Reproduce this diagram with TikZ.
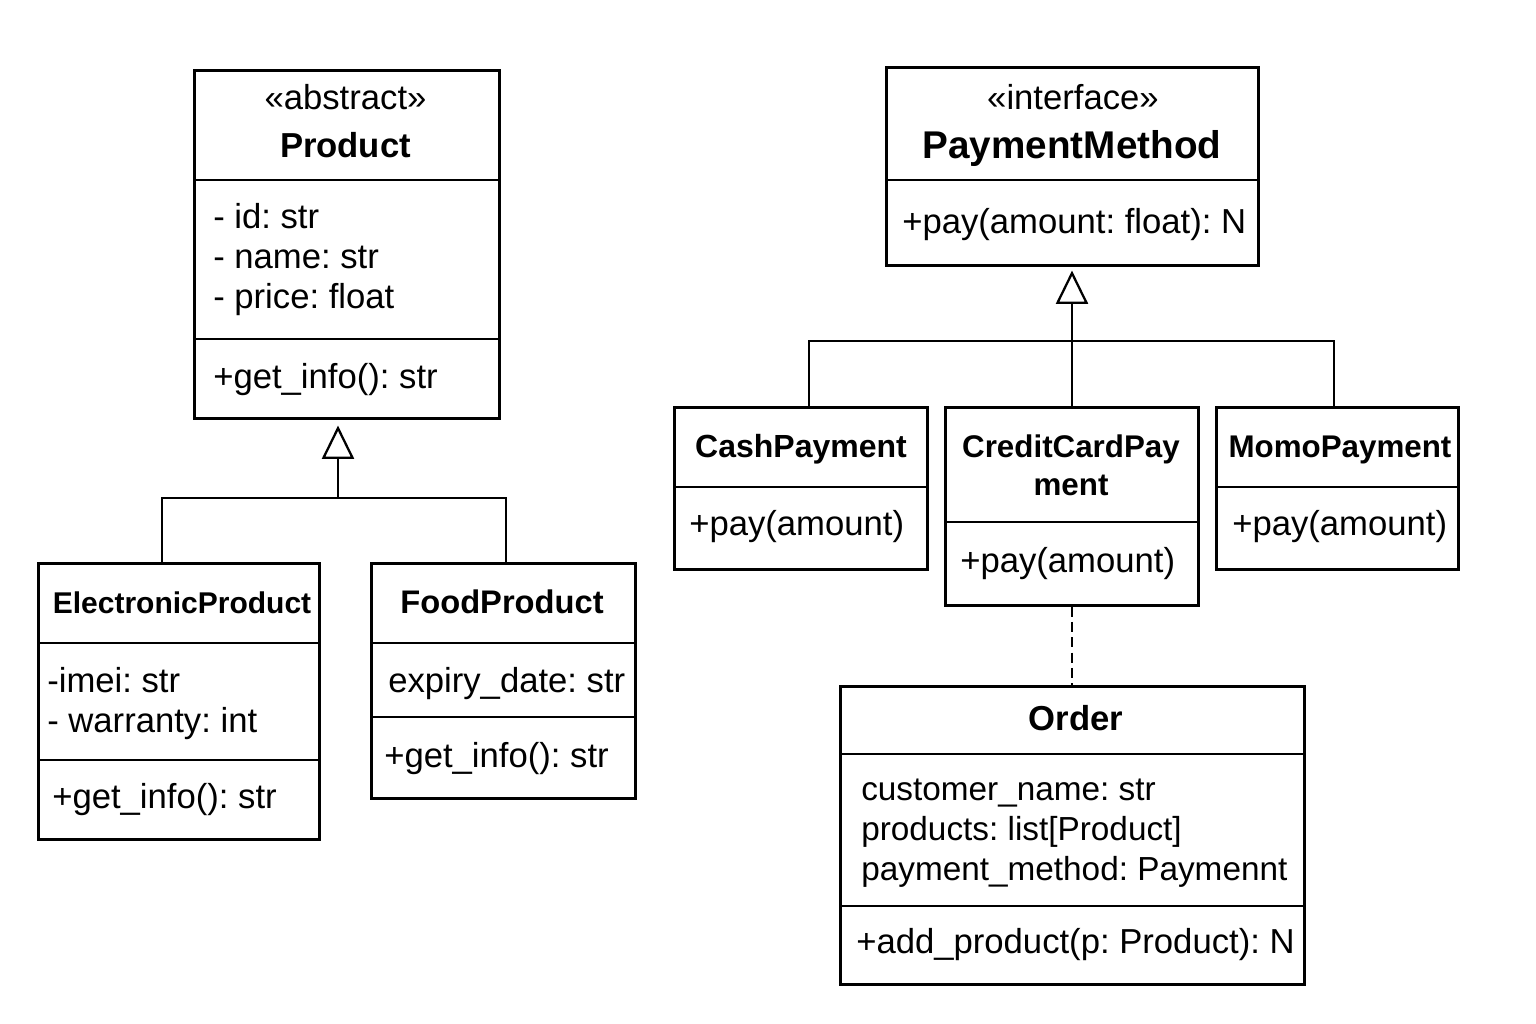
\documentclass[tikz,border=0pt]{standalone}
\usepackage{fontspec}
\setmainfont{Liberation Sans}
\usepackage{tikz}
\usetikzlibrary{arrows.meta}
\frenchspacing

\tikzset{
  classbox/.style={draw, line width=1.9pt, inner sep=0pt, anchor=north west},
  sepline/.style={line width=1.5pt},
  txt/.style={anchor=base west, inner sep=0pt, font=\fontsize{26}{30}\selectfont},
  ctxt/.style={anchor=base, inner sep=0pt, font=\fontsize{26}{30}\selectfont},
  inherit/.style={line width=1.7pt, -{Triangle[open, width=24pt, length=25pt]}},
  conn/.style={line width=1.7pt},
}

\begin{document}
\begin{tikzpicture}[x=0.75pt,y=0.75pt,yscale=-1,xscale=1]
        \useasboundingbox (0,0) rectangle (1536,1024);

        % class boxes
        \node [classbox, minimum width=228.75pt, minimum height=261pt] (product) at (193,69) {};
        \node [classbox, minimum width=210.75pt, minimum height=207pt] (elec) at (37,562) {};
        \node [classbox, minimum width=198pt, minimum height=176.25pt] (food) at (370,562) {};
        \node [classbox, minimum width=279pt, minimum height=148.5pt] (payment) at (885,66) {};
        \node [classbox, minimum width=189.75pt, minimum height=121.5pt] (cash) at (673,406) {};
        \node [classbox, minimum width=189.75pt, minimum height=148.5pt] (credit) at (944,406) {};
        \node [classbox, minimum width=181.5pt, minimum height=121.5pt] (momo) at (1215,406) {};
        \node [classbox, minimum width=348pt, minimum height=223.5pt] (order) at (839,685) {};

        % compartments
        \draw [sepline] (product.west |- 0,180) -- (product.east |- 0,180) ;
        \draw [sepline] (product.west |- 0,339) -- (product.east |- 0,339) ;
        \draw [sepline] (elec.west |- 0,643) -- (elec.east |- 0,643) ;
        \draw [sepline] (elec.west |- 0,760) -- (elec.east |- 0,760) ;
        \draw [sepline] (food.west |- 0,643) -- (food.east |- 0,643) ;
        \draw [sepline] (food.west |- 0,717) -- (food.east |- 0,717) ;
        \draw [sepline] (payment.west |- 0,180) -- (payment.east |- 0,180) ;
        \draw [sepline] (cash.west |- 0,487) -- (cash.east |- 0,487) ;
        \draw [sepline] (credit.west |- 0,522) -- (credit.east |- 0,522) ;
        \draw [sepline] (momo.west |- 0,487) -- (momo.east |- 0,487) ;
        \draw [sepline] (order.west |- 0,754) -- (order.east |- 0,754) ;
        \draw [sepline] (order.west |- 0,906) -- (order.east |- 0,906) ;

        % inheritance Product
        \coordinate (pbus) at (338,498);
        \coordinate (pbusL) at (162,498);
        \coordinate (pbusR) at (506,498);
        \draw [conn] (pbusL |- elec.north) -- (pbusL) -- (pbusR) -- (pbusR |- food.north) ;
        \draw [inherit, shorten >=4.5pt] (pbus) -- (pbus |- product.south) ;

        % realization PaymentMethod
        \coordinate (mbus) at (1072,341);
        \coordinate (mbusL) at (809,341);
        \coordinate (mbusR) at (1334,341);
        \draw [conn] (mbusL |- cash.north) -- (mbusL) -- (mbusR) -- (mbusR |- momo.north) ;
        \draw [conn] (mbus |- credit.north) -- (mbus) ;
        \draw [inherit, shorten >=3pt] (mbus) -- (mbus |- payment.south) ;

        % dependency Order
        \draw [line width=1.4pt, dash pattern=on 7.5pt off 4pt] (credit.south) -- (credit.south |- order.north) ;

        % Product texts
        \draw (345.5,110) node [ctxt] (pster) {«abstract»};
        \draw (345.5,157) node [ctxt, font=\fontsize{26}{30}\selectfont\bfseries] (ptitle) {Product};
        \draw (213,228) node [txt] (pa1) {- id: str};
        \draw (213,268) node [txt] (pa2) {- name: str};
        \draw (213,308) node [txt] (pa3) {- price: float};
        \draw (213,388) node [txt] (pm1) {+get\_info(): str};

        % ElectronicProduct texts
        \draw (182,613) node [ctxt, font=\fontsize{22.5}{27}\selectfont\bfseries] (etitle) {ElectronicProduct};
        \draw (47,692) node [txt] (ea1) {-imei: str};
        \draw (47,732) node [txt] (ea2) {- warranty: int};
        \draw (52,808) node [txt] (em1) {+get\_info(): str};

        % FoodProduct texts
        \draw (502,613) node [ctxt, font=\fontsize{24.5}{29}\selectfont\bfseries] (ftitle) {FoodProduct};
        \draw (388,692) node [txt] (fa1) {expiry\_date: str};
        \draw (384,767) node [txt] (fm1) {+get\_info(): str};

        % PaymentMethod texts
        \draw (1073,110) node [ctxt] (mster) {«interface»};
        \draw (1072,158) node [ctxt, font=\fontsize{29}{34}\selectfont\bfseries] (mtitle) {PaymentMethod};
        \draw (902,233) node [txt] (mm1) {+pay(amount: float): N};

        % CashPayment texts
        \draw (801,457) node [ctxt, font=\fontsize{24}{29}\selectfont\bfseries] (ctitle) {CashPayment};
        \draw (689,535) node [txt] (cm1) {+pay(amount)};

        % CreditCardPayment texts
        \draw (1071,457) node [ctxt, font=\fontsize{23.5}{28}\selectfont\bfseries] (rtitle1) {CreditCardPay};
        \draw (1071,495) node [ctxt, font=\fontsize{23.5}{28}\selectfont\bfseries] (rtitle2) {ment};
        \draw (960,572) node [txt] (rm1) {+pay(amount)};

        % MomoPayment texts
        \draw (1340,457) node [ctxt, font=\fontsize{23.5}{28}\selectfont\bfseries] (otitle) {MomoPayment};
        \draw (1232,535) node [txt] (om1) {+pay(amount)};

        % Order texts
        \draw (1076,730) node [ctxt, font=\fontsize{26}{30}\selectfont\bfseries] (dtitle) {Order};
        \draw (861,800) node [txt, font=\fontsize{25}{30}\selectfont] (da1) {customer\_name: str};
        \draw (861,840) node [txt, font=\fontsize{25}{30}\selectfont] (da2) {products: list[Product]};
        \draw (861,880) node [txt, font=\fontsize{25}{30}\selectfont] (da3) {payment\_method: Paymennt};
        \draw (856,953) node [txt] (dm1) {+add\_product(p: Product): N};
    \end{tikzpicture}
\end{document}
